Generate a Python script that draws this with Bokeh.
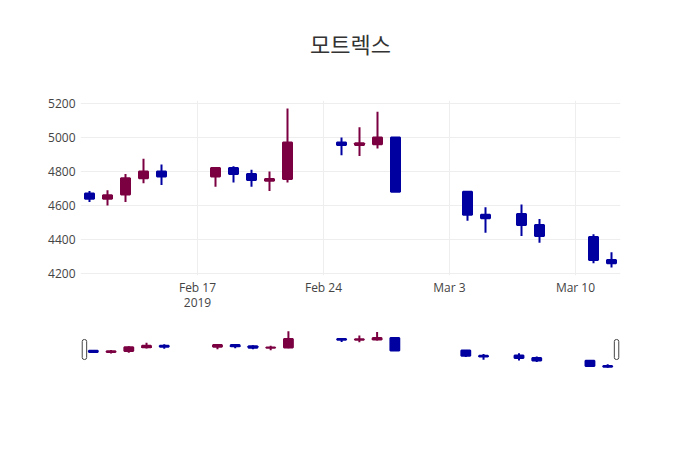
import numpy as np
import pandas as pd
from bokeh.plotting import figure
from bokeh.models import Range1d, FixedTicker, BoxAnnotation, ColumnDataSource, Title
from bokeh.layouts import column
from bokeh.embed import file_html
from bokeh.resources import INLINE

title_text = "모트렉스"
dates = ["2019-02-11", "2019-02-12", "2019-02-13", "2019-02-14", "2019-02-15",
         "2019-02-18", "2019-02-19", "2019-02-20", "2019-02-21", "2019-02-22",
         "2019-02-25", "2019-02-26", "2019-02-27", "2019-02-28",
         "2019-03-04", "2019-03-05", "2019-03-07", "2019-03-08",
         "2019-03-11", "2019-03-12"]
opens = [4670, 4640, 4665, 4760, 4800, 4770, 4820, 4785, 4745, 4755,
         4970, 4955, 4960, 5000, 4680, 4545, 4550, 4485, 4415, 4280]
highs = [4685, 4690, 4785, 4875, 4840, 4825, 4830, 4810, 4800, 5170,
         5000, 5060, 5150, 5000, 4685, 4590, 4605, 4520, 4430, 4325]
lows = [4620, 4600, 4620, 4730, 4720, 4710, 4735, 4710, 4685, 4735,
        4895, 4890, 4935, 4680, 4510, 4440, 4420, 4380, 4260, 4235]
closes = [4640, 4660, 4760, 4800, 4770, 4820, 4785, 4750, 4755, 4970,
          4955, 4965, 5000, 4680, 4545, 4525, 4485, 4420, 4280, 4260]

x_tick_dates = ["2019-02-17", "2019-02-24", "2019-03-03", "2019-03-10"]
x_tick_labels = ["Feb 17\n2019", "Feb 24", "Mar 3", "Mar 10"]
y_ticks = [4200, 4400, 4600, 4800, 5000, 5200]

INC = "#7B0041"
DEC = "#0000A0"
DAY = 86400000.0

x = pd.to_datetime(dates).astype("int64").to_numpy() / 1e6
o = np.array(opens, float)
h = np.array(highs, float)
l = np.array(lows, float)
c = np.array(closes, float)
col = [INC if cc > oo else DEC for oo, cc in zip(o, c)]
src = ColumnDataSource(dict(x=x, top=np.maximum(o, c), bottom=np.minimum(o, c),
                            high=h, low=l, color=col))

pad = 0.05 * (h.max() - l.min())
xr = Range1d(start=x[0] - DAY / 2, end=x[-1] + DAY / 2)
yr = Range1d(start=l.min() - pad, end=h.max() + pad)

tick_ms = list(pd.to_datetime(x_tick_dates).astype("int64").to_numpy() / 1e6)

FRAME_W = 540
main = figure(width=700, height=321, x_axis_type="datetime", x_range=xr, y_range=yr,
              output_backend="svg", toolbar_location=None, title=None,
              min_border_left=80, min_border_right=80, min_border_top=100,
              min_border_bottom=46)
main.outline_line_color = None

TITLE_FONT = "Noto Sans CJK KR"
# invisible spacer between frame and title (stacked closest to the frame)
main.add_layout(Title(text=" ", text_font=TITLE_FONT, text_font_size="22px",
                      standoff=8), "above")
main.add_layout(Title(text=title_text, align="center", text_font=TITLE_FONT,
                      text_font_size="22px", text_font_style="normal",
                      text_color="#333333", standoff=0), "above")

for ax in (main.xaxis[0], main.yaxis[0]):
    ax.axis_line_color = None
    ax.major_tick_line_color = None
    ax.minor_tick_line_color = None
    ax.major_label_text_font = "Open Sans"
    ax.major_label_text_font_size = "12px"
    ax.major_label_text_color = "#444444"

main.xaxis.ticker = FixedTicker(ticks=tick_ms)
main.xaxis.major_label_overrides = {t: lab for t, lab in zip(tick_ms, x_tick_labels)}
main.xaxis.major_label_standoff = -3
main.xaxis.major_label_text_line_height = 0.9
main.yaxis.ticker = FixedTicker(ticks=y_ticks)
main.yaxis.major_label_standoff = -1
main.xgrid.grid_line_color = "#eeeeee"
main.ygrid.grid_line_color = "#eeeeee"


def draw(p):
    p.segment(x0="x", x1="x", y0="low", y1="high", source=src,
              line_color="color", line_width=2)
    p.vbar(x="x", width=DAY * 0.5, top="top", bottom="bottom", source=src,
           fill_color="color", line_color="color", line_width=2)


draw(main)

# range slider: same scale as the main chart, frame widened by EXT px on each
# side so the grab handles are not clipped
EXT = 4
ms_per_px = (xr.end - xr.start) / FRAME_W
mini_xr = Range1d(start=xr.start - EXT * ms_per_px, end=xr.end + EXT * ms_per_px)
mini = figure(width=700, height=60, x_range=mini_xr, y_range=Range1d(yr.start, yr.end),
              x_axis_type=None, y_axis_type=None,
              output_backend="svg", toolbar_location=None,
              min_border_left=80 - EXT, min_border_right=80 - EXT, min_border_top=8,
              min_border_bottom=12)
mini.outline_line_color = None
mini.xgrid.visible = False
mini.ygrid.visible = False
draw(mini)

for edge in (xr.start, xr.end):
    mini.add_layout(BoxAnnotation(left=edge - 2.25 * ms_per_px,
                                  right=edge + 2.25 * ms_per_px,
                                  bottom=10, top=30,
                                  bottom_units="screen", top_units="screen",
                                  fill_color="white", fill_alpha=1.0,
                                  line_color="#444444", line_width=1,
                                  line_alpha=1.0, border_radius=2))

layout = column(main, mini, spacing=0)
open("out.html", "w").write(file_html(layout, INLINE))
